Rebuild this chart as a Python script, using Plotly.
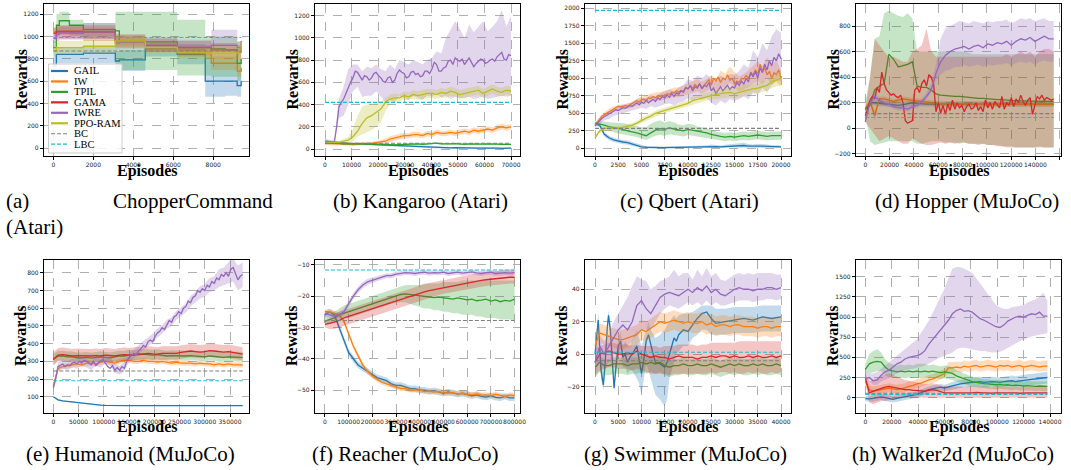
import numpy as np
import plotly.graph_objects as go

# ---------------- data ----------------
NAMES = ["GAIL", "IW", "TPIL", "GAMA", "IWRE", "PPO-RAM"]

# (a) ChopperCommand (step-like curves)
A_X = [0, 150, 300, 800, 1500, 3100, 3300, 4600, 6200, 7600, 7900, 8600, 9200, 9400]
A_GAIL = [740, 840, 840, 840, 850, 780, 790, 890, 840, 600, 600, 600, 560, 600]
A_GAIL_LO = [700, 760, 760, 760, 760, 690, 690, 820, 750, 460, 460, 470, 460, 470]
A_GAIL_HI = [880, 900, 900, 900, 920, 870, 880, 940, 930, 820, 800, 800, 780, 800]
A_IW = [1040, 1050, 1050, 1050, 1040, 960, 960, 900, 880, 860, 760, 760, 690, 720]
A_IW_LO = [1000, 1010, 1010, 1010, 1000, 920, 920, 860, 840, 800, 700, 700, 640, 660]
A_IW_HI = [1080, 1090, 1090, 1090, 1080, 1000, 1000, 940, 920, 920, 820, 820, 760, 780]
A_TPIL = [900, 1100, 1140, 1100, 1060, 1050, 950, 950, 900, 900, 890, 880, 760, 800]
A_TPIL_LO = [860, 1000, 1040, 1000, 980, 700, 700, 700, 650, 650, 640, 640, 600, 640]
A_TPIL_HI = [960, 1200, 1220, 1150, 1120, 1220, 1220, 1220, 1150, 1000, 1000, 1000, 950, 960]
A_GAMA = [1030, 1040, 1040, 1040, 1040, 960, 960, 920, 900, 900, 880, 880, 860, 900]
A_GAMA_LO = [980, 980, 980, 980, 960, 900, 900, 860, 820, 820, 800, 800, 780, 820]
A_GAMA_HI = [1080, 1100, 1100, 1100, 1100, 1020, 1020, 980, 960, 960, 940, 940, 920, 960]
A_IWRE = [980, 1020, 1030, 1030, 1040, 940, 950, 930, 910, 910, 920, 920, 900, 960]
A_IWRE_LO = [940, 960, 970, 970, 980, 880, 890, 870, 850, 850, 860, 860, 850, 900]
A_IWRE_HI = [1020, 1080, 1090, 1090, 1120, 1000, 1010, 990, 970, 970, 1060, 1060, 960, 1000]
A_PPO = [870, 900, 900, 900, 910, 960, 960, 900, 860, 860, 850, 850, 860, 950]
A_PPO_LO = [820, 840, 840, 840, 850, 900, 900, 850, 800, 800, 790, 790, 800, 900]
A_PPO_HI = [920, 960, 960, 960, 970, 1010, 1010, 950, 920, 920, 910, 910, 920, 1000]

# (b) Kangaroo
B_X = np.linspace(0, 70000, 41)
B_XF = np.linspace(0, 70000, 81)
B_GAIL = [70,65,60,55,52,50,48,46,44,42, 40,38,36,34,32,30,28,28,26,24, 20,18,16,14,14,12,10,10,12,10, 8,8,10,8,8,10,8,8,6,8, 8]
B_GAIL_LO = [50,50,48,45,42,40,38,36,34,32, 30,28,26,24,22,20,18,18,16,14, 12,10,8,6,6,4,3,3,4,3, 2,2,3,2,2,3,2,2,1,2, 2]
B_GAIL_HI = [90,80,72,65,62,60,58,56,54,52, 50,48,46,44,42,40,38,38,36,34, 30,28,26,22,22,20,18,18,20,18, 15,15,17,15,15,17,15,15,13,15, 15]
B_IW = [50,50,50,45,45,45,40,45,45,50, 50,55,60,70,90,100,110,120,120,130, 130,120,140,130,150,140,140,150,140,150, 160,150,170,160,170,180,170,190,200,190, 200]
B_IW_LO = [35,35,35,30,30,30,28,30,30,35, 35,38,42,50,65,75,85,95,95,105, 105,95,115,105,125,115,115,125,115,125, 135,125,145,135,145,155,145,165,175,165, 175]
B_IW_HI = [65,65,65,60,60,60,55,60,60,65, 65,72,80,95,115,125,135,145,145,155, 155,145,165,155,175,165,165,175,165,175, 185,175,195,185,195,205,195,215,230,215, 225]
B_TPIL = [50,52,48,50,46,44,46,48,46,50, 48,44,42,40,40,38,40,42,40,44, 46,42,44,48,52,46,44,46,48,44, 42,46,44,42,44,46,42,44,42,44, 42]
B_TPIL_LO = [42,44,40,42,38,36,38,40,38,42, 40,36,34,32,32,30,32,34,32,36, 38,34,36,40,44,38,36,38,40,36, 34,38,36,34,36,38,34,36,34,36, 34]
B_TPIL_HI = [58,60,56,58,54,52,54,56,54,58, 56,52,50,48,48,46,48,50,48,52, 54,50,52,56,60,54,52,54,56,52, 50,54,52,50,52,54,50,52,50,52, 50]
B_IWRE = [60,60,58,62,60, 200,380,420,450,500, 560,600,640,700,690, 650,620,660,650,620, 640,680,690,660,640, 610,600,640,650,600, 620,680,710,690,680, 640,650,690,700,670, 680,650,660,700,700, 680,720,780,760,700, 700,730,740,790,800, 760,820,800,790,810, 760,790,820,780,740, 770,790,810,800,770, 780,800,810,790,830, 850,870,810,800,850, 840]
B_IWRE_LO = [50,50,50,280,300,400,520,560,470,480, 480,520,470,420,440,420,480,460,440,480, 460,440,480,470,500,460,480,450,470,460, 460,470,450,460,470,450,460,470,480,470, 480]
B_IWRE_HI = [70,70,70,450,560,720,760,760,700,740, 730,760,720,700,760,720,800,780,760,800, 780,760,800,820,880,860,1000,1080,1150,1080, 1000,1120,1050,1100,1150,1060,1100,1150,1250,1100, 1200]
B_PPO = [60,60,60,60,70,80,110,160,230,280, 300,330,360,420,450,460,460,480,470,490, 480,490,500,500,490,510,500,520,510,490, 500,510,520,530,500,520,540,520,510,530, 520]
B_PPO_LO = [45,45,45,45,50,55,70,110,130,150, 170,200,240,340,400,420,430,440,440,450, 440,450,460,460,450,470,460,480,470,450, 460,470,480,490,460,480,500,480,470,490, 480]
B_PPO_HI = [75,75,75,75,90,110,180,300,380,400, 410,420,430,460,490,500,490,520,510,530, 520,530,540,540,530,550,540,560,550,530, 540,550,560,570,540,560,580,560,550,570, 560]

# (c) Qbert
C_X = np.linspace(0, 20000, 41)
C_XF = np.linspace(0, 20000, 81)
C_GAIL = [350,330,200,150,120,100,90,80,60,40, 20,15,10,10,10,10,12,15,10,12, 15,20,18,20,25,30,25,20,25,30, 30,35,40,30,25,30,30,25,20,20, 20]
C_GAIL_LO = [330,300,170,120,90,70,60,50,35,20, 5,2,0,0,0,0,0,2,0,0, 2,5,4,5,8,10,8,5,8,10, 8,10,12,8,5,8,8,5,4,4, 4]
C_GAIL_HI = [370,360,230,180,150,130,120,110,90,65, 40,30,25,25,25,25,28,32,25,28, 32,38,36,40,45,55,48,40,50,60, 62,70,80,60,55,65,65,55,45,45, 45]
C_IW = [330, 380,420,460,480, 500,530,550,570, 580,600,590,600, 610,600,620,630, 650,680,660,690, 700,680,720,710, 740,720,750,740, 760,750,780,770, 800,790,820,800, 830,810,860,850, 890,860,910,880, 920,860,900,940, 980,900,1000,960, 1020,940,1000,980, 1050,970,1000,920, 960,940,1000,990, 1040,1000,1080,1050, 1120,1060,1200,1100, 1150,1050,1100,1000, 1080,1050,1120,1000]
C_IW_LO = [310,390,450,490,520,540,550,560,580,610, 630,650,660,680,680,700,710,730,730,750, 770,790,810,780,810,850,790,890,850,930, 870,810,840,880,920,960,920,1000,900,950, 880]
C_IW_HI = [350,450,510,570,600,620,630,640,660,710, 730,750,780,800,800,820,850,870,870,900, 930,970,990,950,990,1050,980,1110,1070,1170, 1090,1030,1060,1120,1180,1240,1180,1300,1200,1250, 1120]
C_TPIL = [360,350,330,310,300,280,270,250,240,220, 200,180,220,260,280,270,290,280,260,250, 270,260,240,230,220,200,180,170,160,170, 160,170,180,170,180,190,180,170,180,180, 180]
C_TPIL_LO = [340,310,280,250,230,210,200,190,180,160, 140,120,150,180,190,180,200,190,180,170, 190,180,170,160,150,130,120,110,100,110, 100,110,120,110,120,130,120,110,120,120, 120]
C_TPIL_HI = [380,390,380,370,370,360,360,340,330,320, 300,300,350,380,400,370,390,370,340,330, 350,340,310,300,290,270,240,230,220,230, 220,230,240,230,240,250,240,230,240,240, 240]
C_IWRE = [320, 360,400,430,450, 470,490,500,530, 550,540,560,580, 570,590,610,600, 630,650,620,660, 640,690,650,680, 700,670,720,700, 740,720,760,730, 780,740,790,770, 820,800,870,850, 900,820,880,860, 920,850,900,880, 940,820,860,780, 840,880,820,860, 900,840,880,860, 940,900,960,920, 1000,950,1080,1020, 1100,1000,1150,1080, 1200,1120,1250,1180, 1300,1250,1350,1280]
C_IWRE_LO = [300,340,400,420,460,480,500,520,540,560, 580,560,600,580,610,630,640,620,650,670, 720,680,720,690,720,650,610,680,640,700, 680,700,740,700,800,760,860,800,900,980, 950]
C_IWRE_HI = [340,420,480,520,560,600,620,640,660,700, 720,720,760,740,790,810,840,820,870,900, 990,960,1040,1000,1060,990,950,1040,1000,1060, 1050,1100,1200,1150,1400,1300,1500,1400,1600,1700, 1650]
C_PPO = [150,250,280,280,290,290,300,310,330,360, 400,430,460,500,520,540,560,580,600,620, 640,680,700,720,740,760,770,780,790,800, 780,800,820,840,850,860,880,900,950,980, 1000]
C_PPO_LO = [130,220,250,250,260,260,270,280,300,330, 360,390,420,460,480,500,520,530,550,570, 590,620,640,660,680,700,700,710,720,730, 710,730,750,770,780,790,800,820,860,880, 900]
C_PPO_HI = [170,280,310,310,320,320,330,340,360,390, 440,470,500,540,560,580,600,630,650,670, 690,740,760,780,800,820,840,850,860,870, 850,870,890,910,920,930,960,980,1040,1080, 1100]

# (d) Hopper
D_X = np.linspace(0, 155000, 41)
D_XF = np.linspace(0, 155000, 81)
D_GAIL = [150,200,200,195,190,190,185,180,185,190, 200,195,190,190,190,192,190,190,190,190, 192,190,190,190,192,190,190,190,192,190, 190,190,192,190,190,190,192,190,190,190, 190]
D_GAIL_LO = [130,180,180,175,170,170,165,160,165,170, 180,175,170,170,170,172,170,170,170,170, 172,170,170,170,172,170,170,170,172,170, 170,170,172,170,170,170,172,170,170,170, 170]
D_GAIL_HI = [170,220,220,215,210,210,205,200,205,210, 220,215,210,210,210,212,210,210,210,210, 212,210,210,210,212,210,210,210,212,210, 210,210,212,210,210,210,212,210,210,210, 210]
D_IW = [150,210,100,230,230,220,210,220,230,225, 220,215,210,200,195,195,190,190,188,190, 190,188,190,190,188,190,188,190,188,190, 188,190,188,190,188,190,188,190,188,190, 188]
D_IW_LO = [130,190,60,210,210,200,190,200,210,205, 200,195,190,180,175,175,170,170,168,170, 170,168,170,170,168,170,168,170,168,170, 168,170,168,170,168,170,168,170,168,170, 168]
D_IW_HI = [170,230,140,250,250,240,230,240,250,245, 240,235,230,220,215,215,210,210,208,210, 210,208,210,210,208,210,208,210,208,210, 208,210,208,210,208,210,208,210,208,210, 208]
D_TPIL = [150,180,300,330,350,580,540,480,490,500, 520,330,320,320,300,270,260,255,250,250, 250,245,240,240,235,235,230,230,225,225, 220,220,215,215,215,215,212,212,210,210, 210]
D_TPIL_LO = [100,-100,-130,-120,-110,-100,-100,-100,-100,-100, -100,-120,-120,-110,-100,-100,-100,-110,-110,-110, -120,-110,-120,-120,-120,-120,-130,-130,-130,-140, -140,-140,-150,-150,-150,-150,-150,-140,-150,-150, -150]
D_TPIL_HI = [200,400,700,720,900,920,900,880,870,900, 860,600,600,600,600,600,600,600,600,600, 600,600,590,580,580,580,580,580,580,580, 580,580,580,580,580,580,580,580,580,580, 580]
D_GAMA = [100, 150,220,250,230, 320,280,440,350, 300,280,260,270, 250,240,260,200, 60,40,50,60, 300,320,280,350, 380,330,420,400, 350,130,200,120, 180,110,190,140, 220,150,200,160, 180,130,170,190, 150,160,200,140, 170,130,220,160, 200,150,210,180, 160,250,150,200, 180,240,170,230, 200,260,210,180, 220,240,110,180, 250,230,260,220, 240,230,220,230]
D_GAMA_LO = [50,0,-50,-100,-80,-60,-80,-100,-120,-120, -80,-100,-120,-130,-130,-120,-110,-120,-110,-120, -110,-110,-120,-120,-130,-120,-130,-130,-140,-140, -150,-150,-150,-150,-150,-150,-150,-150,-150,-150, -150]
D_GAMA_HI = [150,400,700,650,600,560,560,540,520,520, 600,620,650,780,600,560,560,560,560,560, 560,560,560,560,560,560,560,560,560,560, 580,560,580,600,580,600,560,600,620,620, 600]
D_IWRE = [50,200,250,220,200,190,170,160,160,150, 170,180,210,250,300,430,520,570,600,620, 630,640,620,640,650,630,660,650,670,660, 680,650,680,700,690,710,680,700,720,700, 700]
D_IWRE_LO = [40,180,220,200,180,170,150,140,140,130, 150,160,190,230,280,380,420,450,460,480, 480,500,480,490,500,480,500,490,500,500, 510,490,510,520,510,520,500,520,530,520, 520]
D_IWRE_HI = [60,220,280,240,220,210,190,180,180,170, 190,200,230,280,350,500,700,780,800,820, 840,830,820,840,830,820,840,830,840,840, 850,820,840,860,850,860,840,850,860,840, 840]

# (e) Humanoid
E_X = np.linspace(0, 375000, 41)
E_XF = np.linspace(0, 375000, 81)
E_GAIL = [100,82,76,73,70,65,60,57,55,53, 52,51,50,50,50,50,50,50,50,50, 50,50,50,50,50,50,50,50,50,50, 50,50,50,50,50,50,50,50,50,50, 50]
E_GAIL_LO = [97,79,73,70,67,62,57,54,52,50, 49,48,47,47,47,47,47,47,47,47, 47,47,47,47,47,47,47,47,47,47, 47,47,47,47,47,47,47,47,47,47, 47]
E_GAIL_HI = [103,85,79,76,73,68,63,60,58,56, 55,54,53,53,53,53,53,53,53,53, 53,53,53,53,53,53,53,53,53,53, 53,53,53,53,53,53,53,53,53,53, 53]
E_IW = [160,260,270,275,280,285,280,290,290,285, 295,300,295,290,300,305,305,300,300,305, 300,300,295,300,295,290,295,290,290,290, 285,290,285,285,280,285,280,285,280,280, 280]
E_IW_LO = [145,245,255,260,265,270,265,275,275,270, 280,285,280,275,285,290,290,285,285,290, 285,285,280,285,280,275,280,275,275,275, 270,275,270,270,265,270,265,270,265,265, 265]
E_IW_HI = [175,275,285,290,295,300,295,305,305,300, 310,315,310,305,315,320,320,315,315,320, 315,315,310,315,310,305,310,305,305,305, 300,305,300,300,295,300,295,300,295,295, 295]
E_TPIL = [310,330,330,325,325,320,320,322,318,320, 325,322,320,325,330,330,335,333,338,340, 338,335,338,335,330,332,330,328,330,332, 330,328,325,330,326,324,322,325,324,322, 322]
E_TPIL_LO = [285,305,305,300,300,295,295,297,293,295, 300,297,295,300,305,305,310,308,313,315, 313,310,313,310,305,307,305,303,305,307, 305,303,300,305,301,299,297,300,299,297, 297]
E_TPIL_HI = [340,360,360,355,355,350,350,352,348,350, 355,352,350,355,360,360,365,363,368,370, 368,365,368,365,360,362,360,358,360,362, 360,358,355,360,356,354,352,355,354,352, 352]
E_GAMA = [310,335,338,335,330,332,330,328,330,332, 330,335,333,330,335,338,335,340,342,340, 345,342,340,345,345,348,345,350,355,358, 355,352,355,360,358,355,352,355,350,345, 340]
E_GAMA_LO = [275,300,303,300,295,297,295,293,295,297, 295,300,298,295,300,303,300,305,307,305, 310,307,305,310,310,313,310,315,320,323, 320,317,320,325,323,320,317,320,315,310, 305]
E_GAMA_HI = [350,375,378,375,370,372,370,368,370,372, 370,375,373,370,375,378,375,380,382,380, 385,382,380,385,385,388,385,390,395,398, 395,392,395,400,398,395,392,395,390,385, 380]
E_IWRE = [150,200,270,280,285, 270,280,275,290,295, 285,300,290,305,300, 290,280,300,275,290, 300,310,290,270,260, 275,250,265,250,270, 260,300,320,330,345, 335,360,370,390,380, 410,420,410,440,460, 470,490,480,510,530, 520,550,560,580,570, 600,610,640,630,660, 670,700,690,710,700, 730,720,750,740,770, 760,790,780,800,780, 820,830,800,760,780, 790]
E_IWRE_LO = [130,245,260,250,265,260,275,265,250,275, 265,285,275,235,225,245,295,315,340,365, 385,405,435,455,485,500,535,555,575,610, 630,655,665,690,700,720,730,740,750,700, 720]
E_IWRE_HI = [170,295,310,300,315,310,325,315,300,325, 315,335,325,285,275,295,345,365,390,415, 435,455,485,505,535,550,585,605,625,670, 690,725,735,770,780,820,830,860,880,840, 860]

# (f) Reacher
F_X = np.linspace(0, 800000, 41)
F_GAIL = [-26,-25,-26,-30,-34,-38,-40,-42,-43,-44, -45,-46,-46.5,-47,-48,-48.5,-48.5,-49,-49.5,-49.5, -50,-50,-50.5,-50.2,-50.5,-51,-50.6,-51,-51.3,-51, -51.5,-51.8,-51.5,-52,-52.2,-51.8,-52.3,-52.5,-52,-52.5, -52.5]
F_GAIL_LO = [-27,-26,-27,-31,-35,-39,-41,-43,-44,-45, -46,-47,-47.5,-48,-49,-49.5,-49.5,-50,-50.5,-50.5, -51,-51,-51.5,-51.2,-51.5,-52,-51.6,-52,-52.3,-52, -52.5,-52.8,-52.5,-53,-53.2,-52.8,-53.3,-53.5,-53,-53.5, -53.5]
F_GAIL_HI = [-25,-24,-25,-29,-33,-37,-39,-41,-42,-43, -44,-45,-45.5,-46,-47,-47.5,-47.5,-48,-48.5,-48.5, -49,-49,-49.5,-49.2,-49.5,-50,-49.6,-50,-50.3,-50, -50.5,-50.8,-50.5,-51,-51.2,-50.8,-51.3,-51.5,-51,-51.5, -51.5]
F_IW = [-25,-25,-25.5,-26,-28,-32,-36,-39,-42,-44, -45.5,-46.5,-47.5,-48,-48.5,-49,-49.5,-49.5,-50,-50, -50,-50.5,-50.3,-50.6,-50.5,-50.8,-51,-50.8,-51.2,-51, -51.3,-51.5,-51.2,-51.6,-51.5,-51.8,-51.3,-51.6,-52,-51.5, -51.8]
F_IW_LO = [-25.8,-25.8,-26.3,-26.8,-28.8,-32.8,-36.8,-39.8,-42.8,-44.8, -46.3,-47.3,-48.3,-48.8,-49.3,-49.8,-50.3,-50.3,-50.8,-50.8, -50.8,-51.3,-51.1,-51.4,-51.3,-51.6,-51.8,-51.6,-52,-51.8, -52.1,-52.3,-52,-52.4,-52.3,-52.6,-52.1,-52.4,-52.8,-52.3, -52.6]
F_IW_HI = [-24.2,-24.2,-24.7,-25.2,-27.2,-31.2,-35.2,-38.2,-41.2,-43.2, -44.7,-45.7,-46.7,-47.2,-47.7,-48.2,-48.7,-48.7,-49.2,-49.2, -49.2,-49.7,-49.5,-49.8,-49.7,-50,-50.2,-50,-50.4,-50.2, -50.5,-50.7,-50.4,-50.8,-50.7,-51,-50.5,-50.8,-51.2,-50.7, -51]
F_TPIL = [-28,-27.5,-27,-26,-25.5,-25,-24.5,-24,-23.5,-23, -22.5,-22,-21.5,-21,-20.5,-20,-19.5,-19.3,-19.5,-19.8, -20,-20,-20.2,-20.5,-20.3,-20.5,-20.8,-21,-20.6,-21, -21.2,-21,-21.5,-21.3,-21,-21.6,-21.2,-21.8,-21.4,-21.6, -21]
F_TPIL_LO = [-29,-29,-28.5,-28,-27,-27,-26.5,-26,-25.5,-25, -24.5,-24,-23.5,-23,-22.5,-22,-22,-22,-22.5,-23, -23.5,-24,-24,-24.5,-24.5,-25,-25,-25.5,-25.5,-26, -26,-26,-26.5,-26.5,-27,-27,-27,-27.5,-27.5,-27.5, -28]
F_TPIL_HI = [-27,-26,-25,-24,-23,-22.5,-22,-21.5,-21,-20.5, -20,-19.5,-19,-18.5,-18,-17.5,-17,-16.5,-16.5,-16.5, -16.5,-16,-16,-16,-16,-15.5,-15.5,-15.5,-15.5,-15, -15,-15,-15,-15,-15,-15,-15,-15,-15,-15, -15]
F_GAMA = [-29,-28.7,-28.3,-27.8,-27,-26.5,-26,-25.5,-25,-24.5, -24,-23.5,-23,-22.5,-22,-21.5,-21,-20.5,-20,-19.5, -19,-18.7,-18.3,-18,-17.7,-17.3,-17,-16.7,-16.3,-16, -15.8,-15.5,-15.3,-15,-14.8,-14.6,-14.5,-14.3,-14.2,-14, -14]
F_GAMA_LO = [-30,-30.5,-30.5,-30,-29.5,-29,-28.5,-28,-27.5,-27, -26.5,-26,-25.5,-25,-24.5,-24,-23.5,-23,-22.5,-22, -21.5,-21,-20.5,-20,-19.7,-19.3,-19,-18.7,-18.3,-18, -17.8,-17.5,-17.3,-17,-16.8,-16.6,-16.5,-16.3,-16.2,-16, -16]
F_GAMA_HI = [-28,-27,-26,-25,-24.5,-24,-23.5,-23,-22.5,-22, -21.5,-21,-20.5,-20,-19.5,-19,-18.5,-18,-17.5,-17, -16.5,-16.2,-15.8,-15.5,-15.2,-14.8,-14.5,-14.2,-13.8,-13.5, -13.3,-13,-12.8,-12.5,-12.3,-12.1,-12,-11.8,-11.7,-11.5, -11.5]
F_IWRE = [-25.5,-26,-26.5,-26,-25,-22.5,-20,-18,-16.5,-15.5, -15,-14.5,-14,-13.5,-13.5,-13,-12.8,-12.5,-12.6,-12.8, -12.5,-12.4,-12.7,-12.5,-12.6,-12.4,-12.8,-12.5,-12.4,-12.7, -12.5,-12.3,-12.6,-12.8,-12.5,-12.4,-12.8,-12.6,-12.5,-12.7, -12.5]
F_IWRE_LO = [-26.5,-27,-27.5,-27,-26,-23.5,-21,-19,-17.5,-16.5, -15.8,-15.3,-14.8,-14.3,-14.3,-13.8,-13.6,-13.3,-13.4,-13.6, -13.3,-13.2,-13.5,-13.3,-13.4,-13.2,-13.6,-13.3,-13.2,-13.5, -13.3,-13.1,-13.4,-13.6,-13.3,-13.2,-13.6,-13.4,-13.3,-13.5, -13.3]
F_IWRE_HI = [-24.5,-25,-25.5,-25,-24,-21.5,-19,-17,-15.5,-14.5, -14.2,-13.7,-13.2,-12.7,-12.7,-12.2,-12,-11.7,-11.8,-12, -11.7,-11.6,-11.9,-11.7,-11.8,-11.6,-12,-11.7,-11.6,-11.9, -11.7,-11.5,-11.8,-12,-11.7,-11.6,-12,-11.8,-11.7,-11.9, -11.7]

# (g) Swimmer
G_X = np.linspace(0, 40000, 41)
G_GAIL_X = [0,300,700,1000,1300,1800,2200,2600,2900,3300, 3700,4100,4500,5000,5500,6000,6500,7000,7500,8000, 9000,9500,10000,10500,11000,11500,12000,12500,13000,14000, 15000,15500,16000,17000,17500,18000,19000,20000,21000,22000, 23000,24000,25000,26000,28000,30000,32000,34000,36000,38000, 40000]
G_GAIL = [0,10,21,5,-10,-19,-5,15,24,15, -5,-21,-8,5,8,-2,0,-5,-2,0, 5,-5,-12,-3,8,12,5,0,-5,-6, -8,-5,0,10,8,12,15,14,18,22, 25,26,22,19,20,21,22,21,23,22, 23]
G_GAIL_LO = [-3,5,15,0,-15,-22,-10,10,20,10, -10,-23,-12,0,2,-8,-8,-12,-10,-10, -15,-18,-25,-15,-5,-10,-15,-20,-25,-28, -32,-28,-15,-5,0,2,5,5,10,12, 15,15,12,12,12,13,13,13,14,14, 14]
G_GAIL_HI = [3,15,26,10,-5,-15,0,20,27,20, 0,-18,-3,10,14,5,8,5,5,8, 15,10,5,10,15,20,15,12,10,12, 15,18,20,24,22,24,25,25,26,28, 30,30,30,28,28,29,29,29,30,30, 30]
G_IW = [5,13,12,11,10,9,9,10,11,12, 15,14,16,18,20,19,20,21,20,19, 20,19,19,20,18,19,17,18,18,17, 18,18,17,17,17,16,17,17,16,17, 17]
G_IW_LO = [-1,7,6,5,4,3,3,4,5,6, 9,8,10,12,14,13,14,15,14,13, 14,13,13,14,12,13,11,12,12,11, 12,12,11,11,11,10,11,11,10,11, 11]
G_IW_HI = [11,19,18,17,16,15,15,16,17,18, 21,20,22,24,26,25,26,27,26,25, 26,25,25,26,24,25,23,24,24,23, 24,24,23,23,23,22,23,23,22,23, 23]
G_TPIL = [-8,-5,-7,-7,-6,-6,-6,-7,-6,-6, -5,-6,-5,-6,-5,-7,-8,-7,-7,-6, -7,-7,-6,-7,-7,-6,-7,-8,-7,-6, -7,-6,-7,-7,-6,-7,-6,-7,-7,-6, -7]
G_TPIL_LO = [-14,-11,-13,-13,-12,-12,-12,-13,-12,-12, -11,-12,-11,-12,-11,-13,-14,-13,-13,-12, -13,-13,-12,-13,-13,-12,-13,-14,-13,-12, -13,-12,-13,-13,-12,-13,-12,-13,-13,-12, -13]
G_TPIL_HI = [-4,-1,-3,-3,-2,-2,-2,-3,-2,-2, -1,-2,-1,-2,-1,-3,-4,-3,-3,-2, -3,-3,-2,-3,-3,-2,-3,-4,-3,-2, -3,-2,-3,-3,-2,-3,-2,-3,-3,-2, -3]
G_GAMA = [-5,0,1,2,1,0,0,1,0,2, 0,-1,-2,-1,-2,-2,-3,-2,-1,-2, -2,-2,-3,-2,-2,-1,-2,-1,-1,-2, -1,-2,-2,-1,-2,-1,-2,-2,-1,-2, -1]
G_GAMA_LO = [-13,-10,-9,-8,-8,-9,-9,-9,-10,-9, -10,-11,-12,-12,-12,-12,-13,-12,-12,-12, -12,-12,-12,-12,-12,-11,-12,-11,-11,-12, -11,-12,-12,-11,-12,-11,-12,-12,-11,-12, -11]
G_GAMA_HI = [3,5,6,7,7,6,6,6,5,6, 5,5,5,5,4,5,5,5,6,6, 6,6,5,6,6,7,7,7,7,7, 7,8,8,8,8,8,8,8,8,8, 8]
G_IWRE = [-5,5,0,5,10,15,18,15,20,30, 33,28,25,30,35,37,38,37,36,38, 40,38,41,39,42,38,40,37,36,38, 40,41,40,40,39,40,40,41,41,40, 41]
G_IWRE_LO = [-12,-5,-10,-5,0,2,5,5,8,12, 15,15,15,20,25,28,30,29,28,30, 32,30,32,30,33,30,32,30,30,31, 32,33,33,33,32,33,33,34,34,33, 34]
G_IWRE_HI = [2,12,8,12,20,25,30,35,42,48, 46,45,40,42,45,46,48,52,48,50, 50,46,52,48,53,48,50,46,45,47, 49,50,49,50,49,50,50,50,50,49, 49]

# (h) Walker2d
H_X = np.linspace(0, 138000, 47)
H_GAIL = [-10,-15,-10,0,10,0,-10,-20,-10,0, 10,20,30,40,60,80,100,110,120,130, 120,135,150,160,170,180,185,190,195,200, 190,195,200,195,190,200,205,210,200,210, 215,220,225,230,235,240,250]
H_GAIL_LO = [-40,-50,-50,-40,-30,-40,-50,-60,-50,-40, -30,-20,-10,0,20,40,60,70,80,90, 80,90,100,110,120,130,130,130,135,140, 130,135,140,135,130,140,140,145,135,145, 150,150,155,160,165,170,175]
H_GAIL_HI = [20,20,30,40,50,40,30,20,30,40, 50,60,70,80,100,120,140,150,160,170, 160,180,200,210,220,230,240,250,255,260, 250,255,260,255,250,260,270,275,265,275, 280,290,295,300,305,310,320]
H_IW = [200,100,80,90,100,110,120,110,100,110, 120,140,150,170,180,200,220,230,250,280, 300,370,370,380,370,390,380,390,400,380, 390,400,390,380,400,390,400,380,390,400, 380,390,400,390,380,390,390]
H_IW_LO = [150,50,30,40,50,60,70,60,50,60, 70,90,100,120,130,150,170,180,200,230, 250,310,310,320,310,330,320,330,340,320, 330,340,330,320,340,330,340,320,330,340, 320,330,340,330,320,330,330]
H_IW_HI = [260,160,140,150,160,170,180,170,160,170, 180,200,210,230,240,260,280,290,310,340, 360,440,440,450,440,460,450,460,470,450, 460,470,460,450,470,460,470,450,460,470, 450,460,470,460,450,460,460]
H_TPIL = [350,420,440,450,440,380,340,330,320,330, 320,330,320,330,320,330,320,330,320,310, 320,310,300,270,250,230,210,200,190,180, 175,170,165,160,165,155,160,150,155,150, 145,150,145,140,145,140,140]
H_TPIL_LO = [280,300,320,330,330,280,250,250,240,250, 240,250,240,250,240,250,240,250,240,230, 240,230,220,200,180,160,150,140,130,120, 120,110,110,100,110,100,100,90,100,90, 90,90,90,80,90,80,80]
H_TPIL_HI = [420,540,580,600,560,480,430,410,400,410, 400,410,400,420,420,420,400,410,400,390, 400,390,380,340,320,300,280,260,250,240, 230,230,220,220,220,210,220,210,210,210, 200,210,200,200,200,200,200]
H_GAMA = [250,60,80,100,120,130,140,130,120,110, 100,100,90,90,85,80,90,100,90,70, 60,60,60,60,60,55,60,60,65,60, 60,60,55,60,60,65,60,60,60,55, 60,60,60,60,60,60,60]
H_GAMA_LO = [200,-60,-80,-60,-40,-40,-30,-20,-10,0, 0,0,0,0,0,0,0,0,0,0, 0,0,0,0,0,0,0,0,0,0, 0,0,0,0,0,0,0,0,0,0, 0,0,0,0,0,0,0]
H_GAMA_HI = [300,200,220,240,280,290,300,280,260,240, 220,210,200,190,180,170,170,180,170,150, 140,140,140,140,140,130,140,140,140,140, 140,140,130,140,140,140,140,140,140,130, 140,140,140,140,140,140,140]
H_IWRE = [240,250,210,220,280,320,340,380,420,440, 480,500,510,520,540,580,660,720,780,840, 900,960,1040,1080,1100,1070,1080,1060,1020,980, 960,930,900,880,870,900,950,980,1000,1010, 1000,1020,1040,1030,1060,1010,1010]
H_IWRE_LO = [200,200,160,160,200,220,240,270,300,320, 340,350,360,370,380,400,420,450,480,500, 520,540,560,600,620,620,610,600,590,580, 580,570,560,560,570,590,620,650,680,700, 720,740,760,770,780,790,800]
H_IWRE_HI = [280,300,300,320,360,400,440,480,520,560, 600,640,680,720,800,870,950,1050,1150,1250, 1350,1480,1600,1620,1620,1600,1580,1550,1480,1420, 1350,1280,1220,1150,1120,1100,1100,1120,1130,1140, 1150,1180,1200,1220,1250,1300,1200]

# baselines (BC, LBC) per panel and last episode of each run
BC_VALUES = [870, 52, 285, 115, 245, -27.8, -4, 55]
LBC_VALUES = [990, 420, 1970, 85, 190, -11.7, 1.2, 40]
X_END = [9400, 70000, 20000, 155000, 375000, 800000, 40000, 138000]

CAPTIONS = ["(b) Kangaroo (Atari)", "(c) Qbert (Atari)", "(d) Hopper (MuJoCo)",
            "(e) Humanoid (MuJoCo)", "(f) Reacher (MuJoCo)", "(g) Swimmer (MuJoCo)",
            "(h) Walker2d (MuJoCo)"]

X_TICKS = [(0, 8000, 2000), (0, 70000, 10000), (0, 20000, 2500), (0, 160000, 20000),
           (0, 350000, 50000), (0, 800000, 100000), (0, 40000, 5000), (0, 140000, 20000)]
Y_TICKS = [(0, 1200, 200), (0, 1200, 200), (0, 2000, 250), (-200, 800, 200),
           (100, 800, 100), (-50, -10, 10), (-20, 40, 20), (0, 1500, 250)]
X_RANGES = [(-470, 9790), (-3763, 73387), (-1075, 21075), (-7650, 161000),
            (-18400, 387600), (-41700, 823000), (-2150, 42150), (-7070, 148300)]
Y_RANGES = [(-70, 1290), (-63, 1305), (-110, 2061), (-216, 972),
            (8, 872), (-57.3, -8.5), (-36.2, 58), (-190, 1707)]

# ---------------- build ----------------
W, H = 1071, 470
COLORS = {"GAIL": "#1f77b4", "IW": "#ff7f0e", "TPIL": "#2ca02c", "GAMA": "#d62728",
          "IWRE": "#9467bd", "PPO-RAM": "#bcbd22", "BC": "#7f7f7f", "LBC": "#17becf"}


def rgba(hexc, a):
    h = hexc.lstrip("#")
    return "rgba(%d,%d,%d,%.2f)" % (int(h[0:2], 16), int(h[2:4], 16), int(h[4:6], 16), a)


def s(name, xl, mean, xb, lo, hi):
    return (name, xl, mean, xb, lo, hi)


PANELS = [
    dict(shape="hv", series=[s("GAIL", A_X, A_GAIL, A_X, A_GAIL_LO, A_GAIL_HI), s("IW", A_X, A_IW, A_X, A_IW_LO, A_IW_HI),
                             s("TPIL", A_X, A_TPIL, A_X, A_TPIL_LO, A_TPIL_HI), s("GAMA", A_X, A_GAMA, A_X, A_GAMA_LO, A_GAMA_HI),
                             s("IWRE", A_X, A_IWRE, A_X, A_IWRE_LO, A_IWRE_HI), s("PPO-RAM", A_X, A_PPO, A_X, A_PPO_LO, A_PPO_HI)]),
    dict(shape="linear", series=[s("GAIL", B_X, B_GAIL, B_X, B_GAIL_LO, B_GAIL_HI), s("IW", B_X, B_IW, B_X, B_IW_LO, B_IW_HI),
                                 s("TPIL", B_X, B_TPIL, B_X, B_TPIL_LO, B_TPIL_HI), s("IWRE", B_XF, B_IWRE, B_X, B_IWRE_LO, B_IWRE_HI),
                                 s("PPO-RAM", B_X, B_PPO, B_X, B_PPO_LO, B_PPO_HI)]),
    dict(shape="linear", series=[s("GAIL", C_X, C_GAIL, C_X, C_GAIL_LO, C_GAIL_HI), s("IW", C_XF, C_IW, C_X, C_IW_LO, C_IW_HI),
                                 s("TPIL", C_X, C_TPIL, C_X, C_TPIL_LO, C_TPIL_HI), s("IWRE", C_XF, C_IWRE, C_X, C_IWRE_LO, C_IWRE_HI),
                                 s("PPO-RAM", C_X, C_PPO, C_X, C_PPO_LO, C_PPO_HI)]),
    dict(shape="linear", series=[s("GAIL", D_X, D_GAIL, D_X, D_GAIL_LO, D_GAIL_HI), s("IW", D_X, D_IW, D_X, D_IW_LO, D_IW_HI),
                                 s("TPIL", D_X, D_TPIL, D_X, D_TPIL_LO, D_TPIL_HI), s("GAMA", D_XF, D_GAMA, D_X, D_GAMA_LO, D_GAMA_HI),
                                 s("IWRE", D_X, D_IWRE, D_X, D_IWRE_LO, D_IWRE_HI)]),
    dict(shape="linear", series=[s("GAIL", E_X, E_GAIL, E_X, E_GAIL_LO, E_GAIL_HI), s("IW", E_X, E_IW, E_X, E_IW_LO, E_IW_HI),
                                 s("TPIL", E_X, E_TPIL, E_X, E_TPIL_LO, E_TPIL_HI), s("GAMA", E_X, E_GAMA, E_X, E_GAMA_LO, E_GAMA_HI),
                                 s("IWRE", E_XF, E_IWRE, E_X, E_IWRE_LO, E_IWRE_HI)]),
    dict(shape="linear", series=[s("GAIL", F_X, F_GAIL, F_X, F_GAIL_LO, F_GAIL_HI), s("IW", F_X, F_IW, F_X, F_IW_LO, F_IW_HI),
                                 s("TPIL", F_X, F_TPIL, F_X, F_TPIL_LO, F_TPIL_HI), s("GAMA", F_X, F_GAMA, F_X, F_GAMA_LO, F_GAMA_HI),
                                 s("IWRE", F_X, F_IWRE, F_X, F_IWRE_LO, F_IWRE_HI)]),
    dict(shape="linear", series=[s("GAIL", G_GAIL_X, G_GAIL, G_GAIL_X, G_GAIL_LO, G_GAIL_HI), s("IW", G_X, G_IW, G_X, G_IW_LO, G_IW_HI),
                                 s("TPIL", G_X, G_TPIL, G_X, G_TPIL_LO, G_TPIL_HI), s("GAMA", G_X, G_GAMA, G_X, G_GAMA_LO, G_GAMA_HI),
                                 s("IWRE", G_X, G_IWRE, G_X, G_IWRE_LO, G_IWRE_HI)]),
    dict(shape="linear", series=[s("GAIL", H_X, H_GAIL, H_X, H_GAIL_LO, H_GAIL_HI), s("IW", H_X, H_IW, H_X, H_IW_LO, H_IW_HI),
                                 s("TPIL", H_X, H_TPIL, H_X, H_TPIL_LO, H_TPIL_HI), s("GAMA", H_X, H_GAMA, H_X, H_GAMA_LO, H_GAMA_HI),
                                 s("IWRE", H_X, H_IWRE, H_X, H_IWRE_LO, H_IWRE_HI)]),
]

# plot boxes in pixels: (left, right, top, bottom)
BOXES = [(44, 249, 4, 156), (315, 520, 4, 156), (585, 791, 4, 156), (856, 1061, 4, 156),
         (44, 249, 260, 413), (315, 520, 260, 413), (585, 791, 260, 413), (856, 1061, 260, 413)]
EPISODE_GAP = [15, 15, 15, 15, 14, 14, 14, 14]

SERIF = "Liberation Serif, Times New Roman, serif"
SANS = "DejaVu Sans, sans-serif"

fig = go.Figure()
layout = dict(width=W, height=H, margin=dict(l=0, r=0, t=0, b=0, autoexpand=False),
              paper_bgcolor="white", plot_bgcolor="white", showlegend=False, hovermode=False)
annotations = []
shapes = []

for k, (panel, box) in enumerate(zip(PANELS, BOXES)):
    sfx = "" if k == 0 else str(k + 1)
    xa, ya = "x" + sfx, "y" + sfx
    for name, xl, mean, xb, lo, hi in panel["series"]:
        if len(xl) != len(mean) or not (len(xb) == len(lo) == len(hi)):
            raise ValueError("length mismatch in panel %d series %s" % (k, name))
        c = COLORS[name]
        fig.add_trace(go.Scatter(x=xb, y=lo, xaxis=xa, yaxis=ya, mode="lines",
                                 line=dict(width=0, shape=panel["shape"]), hoverinfo="skip"))
        fig.add_trace(go.Scatter(x=xb, y=hi, xaxis=xa, yaxis=ya, mode="lines", fill="tonexty",
                                 fillcolor=rgba(c, 0.27), line=dict(width=0, shape=panel["shape"]),
                                 hoverinfo="skip"))
        fig.add_trace(go.Scatter(x=xl, y=mean, xaxis=xa, yaxis=ya, mode="lines", name=name,
                                 line=dict(color=c, width=1.3, shape=panel["shape"])))
    for name, val in (("BC", BC_VALUES[k]), ("LBC", LBC_VALUES[k])):
        fig.add_trace(go.Scatter(x=[0, X_END[k]], y=[val, val], xaxis=xa, yaxis=ya, mode="lines",
                                 name=name, line=dict(color=COLORS[name], width=1.1, dash="4px,2px")))

    l, r, t, b = box
    x0, x1, dx = X_TICKS[k]
    y0, y1, dy = Y_TICKS[k]
    common = dict(showline=True, mirror=True, linecolor="black", linewidth=1.3,
                  showgrid=True, gridcolor="#b0b0b0", griddash="dash", gridwidth=0.8,
                  zeroline=False, ticks="outside", ticklen=3, tickwidth=0.8, tickcolor="black",
                  tickfont=dict(family=SANS, size=6, color="#222"), exponentformat="none",
                  separatethousands=False, tickformat="d", tickangle=0, automargin=False)
    layout["xaxis" + sfx] = dict(common, domain=[l / W, r / W], anchor=ya,
                                 range=list(X_RANGES[k]), tickvals=list(range(x0, x1 + 1, dx)))
    layout["yaxis" + sfx] = dict(common, domain=[1 - b / H, 1 - t / H], anchor=xa,
                                 range=list(Y_RANGES[k]), tickvals=list(range(y0, y1 + 1, dy)))

    # axis titles
    annotations.append(dict(text="<b>Rewards</b>", x=(l - 23.5) / W, y=1 - (t + b) / 2 / H,
                            xref="paper", yref="paper", textangle=-90, showarrow=False,
                            font=dict(family=SERIF, size=16, color="black"),
                            xanchor="center", yanchor="middle"))
    annotations.append(dict(text="<b>Episodes</b>", x=(l + r) / 2 / W, y=1 - (b + EPISODE_GAP[k]) / H,
                            xref="paper", yref="paper", showarrow=False,
                            font=dict(family=SERIF, size=16, color="black"),
                            xanchor="center", yanchor="middle"))

# captions
CAP_FONT = dict(family=SERIF, size=21, color="black")
annotations.append(dict(text="(a)", x=4 / W, y=1 - 201 / H, xref="paper", yref="paper",
                        showarrow=False, xanchor="left", yanchor="middle", font=CAP_FONT))
annotations.append(dict(text="ChopperCommand", x=275 / W, y=1 - 201 / H, xref="paper", yref="paper",
                        showarrow=False, xanchor="right", yanchor="middle", font=CAP_FONT))
annotations.append(dict(text="(Atari)", x=4 / W, y=1 - 227 / H, xref="paper", yref="paper",
                        showarrow=False, xanchor="left", yanchor="middle", font=CAP_FONT))
CAP_POS = [(420, 201), (689, 201), (967, 201), (130, 454), (405, 454), (686, 454), (953, 454)]
for txt, (cx, cy) in zip(CAPTIONS, CAP_POS):
    annotations.append(dict(text=txt, x=cx / W, y=1 - cy / H, xref="paper", yref="paper",
                            showarrow=False, xanchor="center", yanchor="middle", font=CAP_FONT))

# legend inside panel (a)
shapes.append(dict(type="rect", xref="paper", yref="paper", x0=48.5 / W, x1=122 / W,
                   y0=1 - 153 / H, y1=1 - 64 / H, fillcolor="rgba(255,255,255,0.85)",
                   line=dict(color="#cccccc", width=1), layer="above"))
LEG_NAMES = NAMES + ["BC", "LBC"]
for i, name in enumerate(LEG_NAMES):
    yy = 1 - (71 + 10.45 * i) / H
    dash = "4px,2px" if name in ("BC", "LBC") else "solid"
    width = 1.1 if name in ("BC", "LBC") else 2.2
    shapes.append(dict(type="line", xref="paper", yref="paper", x0=51 / W, x1=68 / W,
                       y0=yy, y1=yy, line=dict(color=COLORS[name], width=width, dash=dash),
                       layer="above"))
    annotations.append(dict(text=name, x=72 / W, y=yy, xref="paper", yref="paper", showarrow=False,
                            xanchor="left", yanchor="middle",
                            font=dict(family=SERIF, size=10.5, color="black")))

layout["annotations"] = annotations
layout["shapes"] = shapes
fig.update_layout(**layout)
fig.write_html("out.html", config={"displayModeBar": False},
               post_script="document.body.style.margin='0';document.body.style.padding='0';")
